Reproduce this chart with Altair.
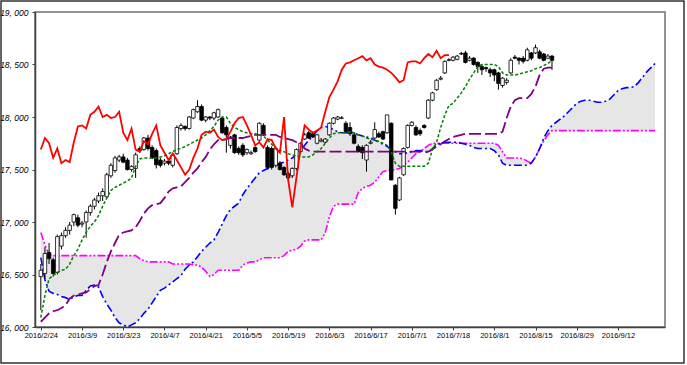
import json
import altair as alt
import pandas as pd

# ---------------- data ----------------
tick_labels = ["2016/2/24", "2016/3/9", "2016/3/23", "2016/4/7", "2016/4/21",
               "2016/5/5", "2016/5/19", "2016/6/3", "2016/6/17", "2016/7/1",
               "2016/7/18", "2016/8/1", "2016/8/15", "2016/8/29", "2016/9/12"]

open_ = [16480, 16510, 16710, 16640, 16520, 16770, 16870, 16920, 17000, 17040,
         16980, 17000, 17090, 17150, 17200, 17250, 17240, 17440, 17490, 17590,
         17620, 17590, 17500, 17510, 17700, 17690, 17800, 17710, 17680, 17590,
         17560, 17580, 17540, 17650, 17890, 17910, 17890, 17990, 18050, 18100,
         17970, 18000, 17990, 18000, 17990, 17900, 17730, 17830, 17700, 17730,
         17660, 17650, 17710, 17780, 17920, 17710, 17700, 17540, 17560, 17520,
         17460, 17440, 17510, 17670, 17790, 17850, 17840, 17750, 17770, 17760,
         17830, 17940, 17980, 17990, 17940, 17900, 17830, 17720, 17710, 17590,
         17750, 17800, 17840, 17860, 17850, 17940, 17350, 17210, 17450, 17710,
         17920, 17900, 17870, 17920, 17990, 18160, 18260, 18360, 18420, 18540,
         18540, 18550, 18600, 18610, 18540, 18560, 18520, 18480, 18470, 18450,
         18450, 18420, 18300, 18330, 18420, 18570, 18560, 18560, 18540, 18610,
         18610, 18620, 18600, 18560, 18580]
high = [16600, 16760, 16800, 16660, 16880, 16900, 16950, 17000, 17080, 17070,
        17010, 17110, 17170, 17230, 17280, 17320, 17470, 17560, 17630, 17640,
        17650, 17610, 17540, 17660, 17720, 17810, 17830, 17730, 17700, 17610,
        17600, 17600, 17660, 17920, 17940, 17920, 18010, 18080, 18160, 18120,
        18010, 18010, 18050, 18080, 18000, 17920, 17820, 17840, 17720, 17750,
        17700, 17680, 17720, 17950, 17940, 17730, 17720, 17720, 17580, 17530,
        17480, 17520, 17700, 17760, 17850, 17870, 17850, 17840, 17800, 17800,
        17950, 18000, 18010, 18010, 17960, 17950, 17850, 17740, 17730, 17740,
        17780, 17950, 17860, 17870, 18020, 17950, 17360, 17430, 17710, 17930,
        17960, 17920, 17890, 17930, 18170, 18240, 18360, 18390, 18540, 18560,
        18580, 18590, 18620, 18630, 18580, 18570, 18530, 18500, 18480, 18470,
        18460, 18430, 18380, 18370, 18560, 18590, 18570, 18580, 18660, 18620,
        18690, 18640, 18610, 18600, 18590]
low = [16160, 16460, 16600, 16480, 16500, 16740, 16850, 16880, 16960, 16950,
       16950, 16850, 17060, 17120, 17180, 17200, 17230, 17420, 17470, 17570,
       17560, 17490, 17480, 17420, 17660, 17680, 17680, 17600, 17510, 17520,
       17540, 17540, 17520, 17640, 17870, 17870, 17880, 17980, 18040, 17960,
       17950, 17970, 17970, 17990, 17840, 17660, 17700, 17650, 17640, 17620,
       17640, 17640, 17660, 17760, 17820, 17500, 17500, 17520, 17490, 17440,
       17400, 17420, 17490, 17650, 17780, 17790, 17800, 17740, 17760, 17750,
       17820, 17930, 17970, 17980, 17850, 17820, 17740, 17660, 17600, 17480,
       17740, 17790, 17800, 17780, 17840, 17400, 17070, 17200, 17440, 17700,
       17910, 17820, 17820, 17890, 17980, 18150, 18250, 18350, 18410, 18530,
       18530, 18540, 18590, 18510, 18530, 18490, 18420, 18400, 18430, 18380,
       18340, 18260, 18280, 18310, 18410, 18550, 18500, 18510, 18530, 18540,
       18600, 18550, 18530, 18550, 18450]
close = [16540, 16700, 16650, 16510, 16860, 16870, 16920, 16970, 17070, 16970,
         16990, 17090, 17150, 17210, 17250, 17290, 17450, 17540, 17610, 17620,
         17570, 17500, 17530, 17640, 17680, 17800, 17700, 17610, 17545, 17540,
         17580, 17560, 17640, 17900, 17920, 17890, 18000, 18070, 18100, 17970,
         18000, 17990, 18040, 18070, 17850, 17830, 17810, 17660, 17660, 17640,
         17690, 17660, 17670, 17940, 17830, 17520, 17520, 17700, 17500, 17450,
         17420, 17510, 17690, 17750, 17830, 17800, 17810, 17830, 17780, 17790,
         17940, 17990, 18000, 17990, 17860, 17840, 17750, 17670, 17660, 17730,
         17760, 17880, 17810, 17790, 18020, 17400, 17130, 17420, 17700, 17920,
         17950, 17830, 17840, 17900, 18160, 18230, 18350, 18370, 18530, 18545,
         18570, 18580, 18605, 18520, 18560, 18500, 18480, 18450, 18460, 18420,
         18400, 18320, 18370, 18350, 18540, 18560, 18540, 18530, 18640, 18560,
         18660, 18560, 18540, 18580, 18540]

tenkan = [16090, 16300, 16460, 16490, 16520, 16540, 16550, 16600, 16680, 16740,
          16830, 16900, 16960, 17000, 17060, 17150, 17230, 17300, 17330, 17350,
          17370, 17390, 17420, 17530, 17600, 17610, 17610, 17610, 17610, 17620,
          17630, 17650, 17670, 17690, 17700, 17720, 17740, 17760, 17780, 17800,
          17830, 17870, 17910, 17970, 18000, 18000, 17940, 17900, 17880, 17860,
          17850, 17840, 17840, 17830, 17820, 17780, 17740, 17700, 17680, 17670,
          17650, 17640, 17630, 17620, 17620, 17620, 17640, 17670, 17700, 17750,
          17800, 17840, 17850, 17850, 17850, 17860, 17850, 17830, 17820, 17800,
          17790, 17780, 17770, 17750, 17730, 17670, 17560, 17530, 17530, 17530,
          17530, 17530, 17530, 17530, 17560, 17690, 17760, 17900, 18020, 18110,
          18130, 18180, 18230, 18290, 18360, 18420, 18480, 18500, 18500, 18500,
          18500, 18480, 18420, 18400, 18400, 18400, 18410, 18420, 18430, 18440,
          18460, 18470, 18490, 18510, 18540]

kijun = [16050, 16090, 16130, 16150, 16160, 16180, 16210, 16270, 16300, 16310,
         16320, 16330, 16360, 16390, 16400, 16500, 16620, 16720, 16800, 16880,
         16900, 16910, 16920, 16950, 17010, 17080, 17130, 17160, 17170, 17180,
         17230, 17290, 17320, 17330, 17340, 17380, 17420, 17470, 17510, 17570,
         17620, 17690, 17740, 17780, 17780, 17790, 17800, 17800, 17800, 17800,
         17810, 17820, 17830, 17830, 17830, 17830, 17830, 17830, 17810, 17800,
         17790, 17780, 17760, 17750, 17700, 17680, 17670, 17670, 17670, 17670,
         17670, 17670, 17670, 17670, 17670, 17670, 17670, 17670, 17670, 17670,
         17670, 17670, 17670, 17670, 17670, 17670, 17670, 17670, 17670, 17670,
         17670, 17670, 17670, 17670, 17670, 17690, 17720, 17740, 17770, 17790,
         17810, 17820, 17830, 17840, 17840, 17840, 17840, 17840, 17840, 17840,
         17840, 17840, 17860, 17990, 18100, 18160, 18180, 18180, 18180, 18220,
         18290, 18400, 18460, 18470, 18470]

chikou = [17690, 17800, 17750, 17610, 17700, 17560, 17590, 17570, 17760, 17910,
          17920, 17890, 18020, 18050, 18100, 18000, 18020, 17990, 18000, 18050,
          17850, 17780, 17890, 17690, 17670, 17770, 17740, 17840, 17920, 17730,
          17660, 17590, 17650, 17590, 17520, 17450, 17500, 17610, 17700, 17830,
          17860, 17850, 17880, 17810, 17780, 17790, 17860, 17940, 17990, 18000,
          17920, 17830, 17730, 17760, 17710, 17790, 17780, 17700, 17660, 18000,
          17400, 17140, 17420, 17700, 17920, 17880, 17850, 17870, 17900, 18050,
          18190, 18260, 18340, 18450, 18510, 18520, 18540, 18560, 18580, 18540,
          18560, 18500, 18480, 18470, 18450, 18420, 18380, 18330, 18350, 18520,
          18530, 18530, 18510, 18560, 18600, 18570, 18630, 18560, 18590, 18590]

senkou_a = [16660, 16450, 16340, 16320, 16310, 16290, 16280, 16260, 16290, 16300,
            16300, 16350, 16390, 16400, 16380, 16290, 16220, 16160, 16090, 16040,
            16020, 16000, 16020, 16040, 16080, 16130, 16170, 16230, 16290, 16350,
            16370, 16400, 16430, 16460, 16490, 16550, 16590, 16620, 16670, 16720,
            16760, 16800, 16830, 16900, 16980, 17060, 17120, 17150, 17180, 17260,
            17320, 17370, 17420, 17470, 17490, 17510, 17530, 17540, 17560, 17570,
            17590, 17610, 17640, 17680, 17730, 17780, 17820, 17870, 17900, 17910,
            17900, 17880, 17860, 17850, 17850, 17850, 17850, 17830, 17820, 17810,
            17800, 17780, 17760, 17740, 17720, 17690, 17670, 17650, 17650, 17660,
            17670, 17680, 17680, 17670, 17660, 17700, 17730, 17750, 17760, 17760,
            17760, 17760, 17750, 17740, 17730, 17710, 17700, 17700, 17700, 17700,
            17680, 17640, 17560, 17540, 17540, 17540, 17540, 17540, 17540, 17560,
            17620, 17700, 17800, 17870, 17920, 17950, 17980, 18010, 18050, 18090,
            18130, 18150, 18160, 18160, 18150, 18140, 18140, 18150, 18170, 18210,
            18250, 18270, 18280, 18280, 18290, 18330, 18380, 18430, 18470, 18510]

senkou_b = [16900, 16780, 16690, 16680, 16680, 16680, 16680, 16680, 16680, 16680,
            16680, 16680, 16680, 16680, 16680, 16680, 16680, 16680, 16680, 16680,
            16680, 16680, 16680, 16680, 16650, 16630, 16620, 16620, 16620, 16620,
            16620, 16620, 16600, 16600, 16600, 16600, 16600, 16590, 16590, 16570,
            16530, 16480, 16500, 16540, 16540, 16540, 16540, 16540, 16540, 16590,
            16610, 16620, 16620, 16640, 16660, 16660, 16660, 16660, 16660, 16680,
            16720, 16730, 16740, 16770, 16820, 16830, 16830, 16830, 16830, 16900,
            17050, 17150, 17170, 17170, 17170, 17170, 17170, 17280, 17320, 17340,
            17350, 17380, 17430, 17480, 17490, 17490, 17500, 17510, 17540, 17570,
            17610, 17650, 17670, 17700, 17730, 17750, 17750, 17750, 17750, 17750,
            17750, 17750, 17750, 17750, 17750, 17750, 17750, 17750, 17750, 17750,
            17750, 17730, 17670, 17610, 17610, 17610, 17610, 17600, 17580, 17560,
            17620, 17700, 17770, 17830, 17870, 17870, 17870, 17870, 17870, 17870,
            17870, 17870, 17870, 17870, 17870, 17870, 17870, 17870, 17870, 17870,
            17870, 17870, 17870, 17870, 17870, 17870, 17870, 17870, 17870, 17870]

# ---------------- tables ----------------
candles = pd.DataFrame({"i": range(len(close)), "open": open_, "high": high,
                        "low": low, "close": close})
cloud = pd.DataFrame({"i": range(len(senkou_a)), "a": senkou_a, "b": senkou_b})
ten_df = pd.DataFrame({"i": range(len(tenkan)), "v": tenkan})
kij_df = pd.DataFrame({"i": range(len(kijun)), "v": kijun})
chi_df = pd.DataFrame({"i": range(len(chikou)), "v": chikou})
sa_df = pd.DataFrame({"i": range(len(senkou_a)), "v": senkou_a})
sb_df = pd.DataFrame({"i": range(len(senkou_b)), "v": senkou_b})

FONT = "Liberation Sans"
xscale = alt.Scale(domain=[-0.2, 150.2], nice=False, zero=False)
yscale = alt.Scale(domain=[16000, 19000], nice=False, zero=False)

x_axis = alt.Axis(values=list(range(0, 150, 10)),
                  labelExpr=json.dumps(tick_labels) + "[round(datum.value / 10)]",
                  title=None, grid=False, domainColor="#404040", domainWidth=1.5,
                  tickColor="#404040", tickSize=3, labelFontSize=7.5, labelFont=FONT,
                  labelColor="black", labelPadding=1, labelFlush=False,
                  labelOverlap=False)
y_axis = alt.Axis(values=list(range(16000, 19001, 500)),
                  labelExpr="replace(format(datum.value, ','), ',', ', ')",
                  title=None, grid=False, domainColor="#404040", domainWidth=1.5,
                  tickColor="#404040", tickSize=3, labelFontSize=8.5, labelFont=FONT,
                  labelFontStyle="italic", labelColor="black", labelPadding=4)

X = alt.X("i:Q", scale=xscale, axis=x_axis)


def Y(field):
    return alt.Y(f"{field}:Q", scale=yscale, axis=y_axis)


frame = alt.Chart(alt.Data(values=[{"k": 1}])).mark_rect(
    filled=False, stroke="#333333", strokeWidth=1.5
).encode(x=alt.value(-34), x2=alt.value(649), y=alt.value(-11), y2=alt.value(351))

cloud_l = alt.Chart(cloud).mark_area(color="#dcdcdc", opacity=0.7).encode(
    x=X, y=Y("a"), y2="b")

sb_l = alt.Chart(sb_df).mark_line(color="#FF00FF", strokeWidth=1.6,
                                  strokeDash=[8, 2, 2, 2, 2, 2]).encode(x=X, y=Y("v"))
sa_l = alt.Chart(sa_df).mark_line(color="#0000FF", strokeWidth=1.6,
                                  strokeDash=[8, 3, 2, 3]).encode(x=X, y=Y("v"))

wick_l = alt.Chart(candles).mark_rule(color="black", strokeWidth=1).encode(
    x=X, y=Y("low"), y2="high")
body_l = alt.Chart(candles).mark_bar(size=3.5, stroke="black", strokeWidth=0.8).encode(
    x=X, y=Y("open"), y2="close",
    fill=alt.condition("datum.close >= datum.open", alt.value("white"), alt.value("black")))

kij_l = alt.Chart(kij_df).mark_line(color="#800080", strokeWidth=1.8,
                                    strokeDash=[12, 4]).encode(x=X, y=Y("v"))
ten_l = alt.Chart(ten_df).mark_line(color="#008000", strokeWidth=1.5,
                                    strokeDash=[3, 2]).encode(x=X, y=Y("v"))
chi_l = alt.Chart(chi_df).mark_line(color="#FF0000", strokeWidth=1.8).encode(
    x=X, y=Y("v"))

chart = alt.layer(frame, cloud_l, sb_l, sa_l, wick_l, body_l, kij_l, ten_l, chi_l).properties(
    width=630, height=315,
    padding={"left": 35, "top": 12, "right": 22, "bottom": 38},
    autosize=alt.AutoSizeParams(type="none"),
    background="white",
).configure_view(stroke="#707070", strokeWidth=1.5)

chart.save("out.html", embed_options={"renderer": "svg", "actions": False})
